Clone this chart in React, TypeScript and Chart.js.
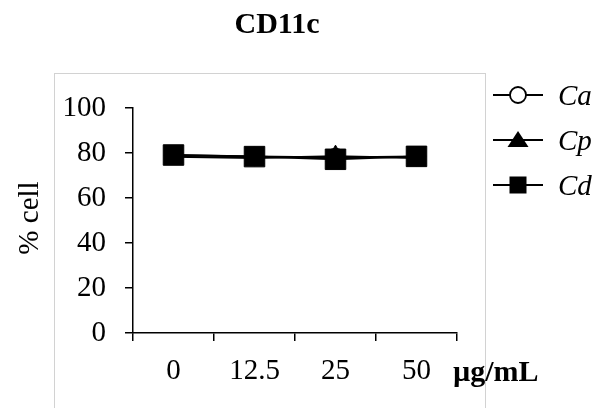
import React, { useEffect, useRef } from "react";
import { Chart, registerables } from "chart.js";

Chart.register(...registerables);

const categories = ["0", "12.5", "25", "50"];
const caValues = [79, 78.5, 78, 78.5];
const cpValues = [78.3, 77.8, 78.6, 77.8];
const cdValues = [79.1, 78.4, 77.2, 78.5];
const seriesNames = ["Ca", "Cp", "Cd"];
const titleText = "CD11c";
const yTitleText = "% cell";
const unitText = "µg/mL";

const SERIF = "'Liberation Serif', 'Times New Roman', serif";

const decorPlugin = {
  id: "decor",
  beforeDraw(chart: any) {
    const ctx = chart.ctx as CanvasRenderingContext2D;
    ctx.save();
    ctx.fillStyle = "#ffffff";
    ctx.fillRect(0, 0, chart.width, chart.height);
    ctx.strokeStyle = "#d2d2d2";
    ctx.lineWidth = 1;
    ctx.strokeRect(54.5, 73.5, 431, 345);
    ctx.restore();
  },
  afterDraw(chart: any) {
    const ctx = chart.ctx as CanvasRenderingContext2D;
    ctx.save();
    ctx.fillStyle = "#000";
    // title
    ctx.font = `bold 30px ${SERIF}`;
    ctx.textAlign = "center";
    ctx.textBaseline = "alphabetic";
    ctx.fillText(titleText, 277, 33);
    // y title
    ctx.save();
    ctx.translate(38, 218);
    ctx.rotate(-Math.PI / 2);
    ctx.font = `29px ${SERIF}`;
    ctx.textAlign = "center";
    ctx.fillText(yTitleText, 0, 0);
    ctx.restore();
    // unit
    ctx.font = `bold 30px ${SERIF}`;
    ctx.textAlign = "left";
    ctx.fillText(unitText, 453, 381);
    // legend
    const rows = [95, 140, 185];
    const mx = 518;
    seriesNames.forEach((name, i) => {
      const y = rows[i];
      ctx.strokeStyle = "#000";
      ctx.lineWidth = 2;
      ctx.beginPath();
      ctx.moveTo(493, y);
      ctx.lineTo(543, y);
      ctx.stroke();
      ctx.fillStyle = "#000";
      if (i === 0) {
        ctx.beginPath();
        ctx.arc(mx, y, 8, 0, Math.PI * 2);
        ctx.fillStyle = "#fff";
        ctx.fill();
        ctx.lineWidth = 1.8;
        ctx.stroke();
      } else if (i === 1) {
        ctx.beginPath();
        ctx.moveTo(mx, y - 9);
        ctx.lineTo(mx - 10.5, y + 7);
        ctx.lineTo(mx + 10.5, y + 7);
        ctx.closePath();
        ctx.fill();
      } else {
        ctx.fillRect(mx - 8.5, y - 8.5, 17, 17);
      }
      ctx.fillStyle = "#000";
      ctx.font = `italic 29px ${SERIF}`;
      ctx.textAlign = "left";
      ctx.textBaseline = "alphabetic";
      ctx.fillText(name, 558, y + 10);
    });
    ctx.restore();
  },
};

export default function App() {
  const canvasRef = useRef<HTMLCanvasElement | null>(null);

  useEffect(() => {
    if (!canvasRef.current) return;
    const chart = new Chart(canvasRef.current, {
      type: "line",
      data: {
        labels: categories,
        datasets: [
          {
            label: seriesNames[0],
            data: caValues,
            borderColor: "#000",
            borderWidth: 2,
            pointStyle: "circle",
            pointRadius: 9,
            pointBackgroundColor: "#fff",
            pointBorderColor: "#000",
            pointBorderWidth: 1.5,
            order: 3,
          },
          {
            label: seriesNames[1],
            data: cpValues,
            borderColor: "#000",
            borderWidth: 2,
            pointStyle: "triangle",
            pointRadius: 11,
            pointBackgroundColor: "#000",
            pointBorderColor: "#000",
            pointBorderWidth: 1,
            order: 2,
          },
          {
            label: seriesNames[2],
            data: cdValues,
            borderColor: "#000",
            borderWidth: 2,
            pointStyle: "rect",
            pointRadius: 14.5,
            pointBackgroundColor: "#000",
            pointBorderColor: "#000",
            pointBorderWidth: 1,
            order: 1,
          },
        ],
      },
      options: {
        responsive: false,
        animation: false,
        layout: { padding: { left: 0, right: 143, top: 108, bottom: 0 } },
        plugins: {
          legend: { display: false },
          title: { display: false },
          tooltip: { enabled: false },
        },
        scales: {
          x: {
            type: "category",
            offset: true,
            ticks: {
              color: "#000",
              font: { family: SERIF, size: 29 },
              padding: 13,
            },
            grid: {
              offset: true,
              drawOnChartArea: false,
              drawTicks: true,
              tickLength: 8,
              color: "#000",
              lineWidth: 1.5,
            },
            border: { color: "#000", width: 1.5 },
            afterFit: (s: any) => {
              s.height = 75;
            },
          },
          y: {
            min: 0,
            max: 100,
            ticks: {
              stepSize: 20,
              color: "#000",
              font: { family: SERIF, size: 29 },
              padding: 19,
            },
            grid: {
              drawOnChartArea: false,
              drawTicks: true,
              tickLength: 8,
              color: "#000",
              lineWidth: 1.5,
            },
            border: { color: "#000", width: 1.5 },
            afterFit: (s: any) => {
              s.width = 133;
            },
          },
        },
      },
      plugins: [decorPlugin],
    });
    return () => chart.destroy();
  }, []);

  return (
    <div style={{ position: "absolute", left: 0, top: 0, width: 600, height: 408 }}>
      <canvas ref={canvasRef} width={600} height={408} style={{ display: "block" }} />
    </div>
  );
}
